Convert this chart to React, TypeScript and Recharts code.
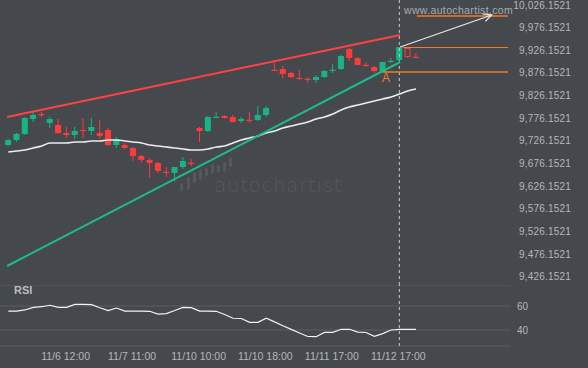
import React from 'react';
import {
  ComposedChart,
  LineChart,
  Bar,
  Line,
  XAxis,
  YAxis,
  ReferenceLine,
  ReferenceDot,
  CartesianGrid,
} from 'recharts';

const BG = '#45484d';
const GREEN = '#17b584';
const RED = '#ff3b3b';
const ORANGE = '#f47a25';
const LABEL = '#b5b7ba';
const FONT = '"Liberation Sans", Arial, sans-serif';

// ---- candle data (one entry per hourly bar) ----
const opens = [9717.3, 9728.4, 9741.6, 9774.7, 9785.7, 9765.9, 9761.5, 9743.8, 9739.4, 9750.4, 9748.2, 9743.8, 9750.4, 9717.3, 9717.3, 9710.7, 9693.1, 9684.3, 9677.6, 9658.3, 9655.6, 9668.8, 9678.0, 9754.8, 9748.2, 9778.8, 9781.3, 9779.1, 9770.3, 9773.0, 9772.5, 9783.5, 9883.2, 9885.0, 9876.2, 9865.5, 9863.3, 9860.7, 9867.3, 9882.4, 9885.0, 9929.1, 9909.3, 9894.2, 9889.4, 9878.4, 9902.2, 9904.8, 9931.3, 9912.0];
const highs = [9730.6, 9743.8, 9779.1, 9790.1, 9790.1, 9779.1, 9774.7, 9757.1, 9757.1, 9776.9, 9776.9, 9772.5, 9754.8, 9735.0, 9721.8, 9712.9, 9695.3, 9688.7, 9679.8, 9668.8, 9668.8, 9690.9, 9686.5, 9757.1, 9781.3, 9790.1, 9783.5, 9783.5, 9779.1, 9790.1, 9803.4, 9803.4, 9898.2, 9891.6, 9878.4, 9882.8, 9867.3, 9871.8, 9882.8, 9896.0, 9915.9, 9931.3, 9911.5, 9900.4, 9891.6, 9900.4, 9909.3, 9933.5, 9933.5, 9920.3];
const lows = [9715.1, 9724.0, 9739.4, 9768.1, 9779.1, 9754.8, 9741.6, 9732.8, 9730.6, 9732.8, 9739.4, 9730.6, 9715.1, 9710.7, 9708.5, 9682.1, 9677.6, 9644.6, 9655.6, 9646.8, 9637.9, 9664.4, 9671.0, 9724.0, 9746.0, 9776.9, 9774.7, 9766.9, 9765.9, 9765.9, 9770.3, 9779.1, 9880.6, 9865.1, 9865.1, 9860.7, 9854.1, 9854.1, 9865.1, 9876.2, 9882.8, 9902.6, 9893.8, 9889.4, 9876.2, 9876.2, 9898.2, 9904.8, 9909.3, 9911.0];
const closes = [9728.4, 9741.6, 9776.9, 9783.5, 9784.7, 9774.7, 9743.8, 9739.4, 9748.2, 9749.4, 9757.1, 9737.2, 9717.3, 9730.6, 9710.7, 9693.1, 9684.3, 9677.6, 9660.0, 9657.3, 9668.8, 9682.1, 9677.2, 9748.2, 9779.1, 9779.6, 9776.9, 9768.1, 9774.7, 9772.0, 9783.5, 9799.0, 9882.4, 9874.0, 9867.3, 9864.7, 9862.5, 9867.3, 9880.6, 9883.2, 9913.7, 9909.3, 9893.8, 9893.4, 9880.6, 9900.4, 9903.0, 9933.5, 9911.5, 9911.0];
const hollowCandles = [48];
const maValues = [9701.9, 9704.1, 9706.3, 9710.7, 9715.1, 9721.8, 9721.8, 9721.8, 9724.0, 9724.0, 9726.2, 9726.2, 9728.4, 9728.4, 9726.2, 9724.0, 9721.8, 9717.3, 9715.1, 9712.9, 9710.7, 9708.5, 9706.3, 9706.3, 9708.5, 9712.9, 9715.1, 9721.8, 9728.4, 9732.8, 9737.2, 9743.8, 9748.2, 9754.8, 9759.2, 9763.6, 9768.1, 9774.7, 9779.1, 9785.7, 9794.5, 9801.2, 9805.6, 9810.0, 9814.4, 9818.8, 9823.2, 9829.8, 9836.5, 9840.9];
const rsiValues = [55.8, 55.8, 56.7, 58.9, 59.4, 60.6, 58.9, 58.9, 61.4, 61.4, 61.1, 58.5, 56.2, 58.3, 55.8, 55.8, 55.8, 55.6, 53.3, 53.7, 56.2, 58.9, 58.6, 55.8, 55.8, 55.6, 52.9, 49.8, 49.6, 46.4, 46.4, 49.8, 46.8, 43.5, 40.5, 37.5, 34.6, 34.4, 38.0, 38.1, 40.6, 40.6, 38.3, 37.9, 34.7, 37.0, 40.0, 40.6, 40.6, 40.6];

// ---- axes ----
const priceTicks = [10026.1521, 9976.1521, 9926.1521, 9876.1521, 9826.1521, 9776.1521, 9726.1521, 9676.1521, 9626.1521, 9576.1521, 9526.1521, 9476.1521, 9426.1521];
const rsiTicks = [40, 60];
const timeTickIndex = [7, 15, 23, 31, 39, 47];
const timeTickLabels = ['11/6 12:00', '11/7 11:00', '11/10 10:00', '11/10 18:00', '11/11 17:00', '11/12 17:00'];

// ---- pattern annotations (index, price) ----
const signalIndex = 47;
const resistanceLine = [{ x: -0.15, y: 9779.1 }, { x: 47.1, y: 9960.0 }];
const supportLine = [{ x: -0.15, y: 9450.4 }, { x: 47.1, y: 9900.4 }];
const forecastArrow = [{ x: 47.1, y: 9933.5 }, { x: 58.1, y: 10004.1 }];
const targetLevel = { from: 49.1, to: 60.06, price: 10001.9 };
const breakoutLevel = { from: 47.45, to: 60.06, price: 9932.4 };
const pointALevel = { from: 45.05, to: 60.06, price: 9878.4 };
const pointA = { x: 45.4, price: 9865.1, label: 'A' };

const X_DOMAIN: [number, number] = [-1, 60.3];
const PRICE_DOMAIN: [number, number] = [9408.5, 10037.18];
const RSI_DOMAIN: [number, number] = [26.67, 77.5];

const data = opens.map((o, i) => ({
  i,
  open: o,
  high: highs[i],
  low: lows[i],
  close: closes[i],
  ma: maValues[i],
  hollow: hollowCandles.includes(i),
}));
const rsiData = rsiValues.map((r, i) => ({ i, rsi: r }));

const Candle = (props: any) => {
  const { x, y, width, height, payload } = props;
  if (!payload) return null;
  const { open, close, high, low, hollow } = payload;
  const top = Math.min(y, y + height);
  const h = Math.abs(height);
  const k = h / (high - low);
  const py = (v: number) => top + (high - v) * k;
  const up = close >= open;
  const color = up ? GREEN : RED;
  const bt = py(Math.max(open, close));
  const bb = py(Math.min(open, close));
  const bh = Math.max(1.2, bb - bt);
  const cx = x + width / 2;
  return (
    <g>
      <line x1={cx} x2={cx} y1={top} y2={top + h} stroke={color} strokeWidth={1} />
      {hollow ? (
        <rect x={x + 0.5} y={bt + 0.5} width={width - 1} height={bh - 1} fill={BG} stroke={color} strokeWidth={1} />
      ) : (
        <rect x={x} y={bt} width={width} height={bh} fill={color} />
      )}
    </g>
  );
};

const ArrowShape = (props: any) => {
  const { x1, y1, x2, y2 } = props;
  if ([x1, y1, x2, y2].some((v) => typeof v !== 'number')) return null;
  const ang = Math.atan2(y2 - y1, x2 - x1);
  const len = 9;
  const spread = 0.45;
  const ax = x2 - len * Math.cos(ang - spread);
  const ay = y2 - len * Math.sin(ang - spread);
  const bx = x2 - len * Math.cos(ang + spread);
  const by = y2 - len * Math.sin(ang + spread);
  return (
    <g>
      <line x1={x1} y1={y1} x2={x2} y2={y2} stroke="#e8e8e8" strokeWidth={1.3} />
      <path d={`M${ax},${ay} L${x2},${y2} L${bx},${by}`} fill="none" stroke="#e8e8e8" strokeWidth={1.3} />
    </g>
  );
};

const PriceTick = (props: any) => {
  const { y, payload } = props;
  const txt = Number(payload.value).toLocaleString('en-US', { minimumFractionDigits: 4, maximumFractionDigits: 4 });
  return (
    <text x={571} y={y} textAnchor="end" dominantBaseline="central" fill={LABEL} fontSize={10} fontFamily={FONT} letterSpacing={0.2}>
      {txt}
    </text>
  );
};

const RsiTick = (props: any) => {
  const { y, payload } = props;
  return (
    <text x={517} y={y} textAnchor="start" dominantBaseline="central" fill={LABEL} fontSize={10} fontFamily={FONT}>
      {payload.value}
    </text>
  );
};

const TimeTick = (props: any) => {
  const { x, payload } = props;
  const idx = timeTickIndex.indexOf(payload.value);
  return (
    <text x={x - 1} y={71} textAnchor="middle" dominantBaseline="central" fill={LABEL} fontSize={10.5} fontFamily={FONT}>
      {timeTickLabels[idx] ?? ''}
    </text>
  );
};

const logoBars = [
  { l: 180, t: 183, h: 8 },
  { l: 187, t: 177, h: 13 },
  { l: 193, t: 172, h: 11 },
  { l: 199, t: 169, h: 11 },
  { l: 205, t: 168, h: 8 },
  { l: 211, t: 164, h: 10 },
  { l: 217, t: 165, h: 8 },
  { l: 223, t: 162, h: 10 },
  { l: 229, t: 157, h: 10 },
];

export default function App() {
  return (
    <div
      style={{
        position: 'absolute',
        left: 0,
        top: 0,
        width: 588,
        height: 368,
        background: BG,
        overflow: 'hidden',
        fontFamily: FONT,
      }}
    >
      {/* watermark */}
      {logoBars.map((b, k) => (
        <div
          key={k}
          style={{ position: 'absolute', left: b.l, top: b.t, width: 3, height: b.h, background: '#55585e', borderRadius: 1.5 }}
        />
      ))}
      <div
        style={{
          position: 'absolute',
          left: 214,
          top: 173,
          fontSize: 20,
          color: '#55585e',
          fontFamily: '"DejaVu Sans", sans-serif',
          fontWeight: 300,
          letterSpacing: 0.6,
        }}
      >
        autochartist
      </div>

      <div style={{ position: 'absolute', left: 0, top: 0 }}>
        <ComposedChart width={588} height={285} data={data} margin={{ top: 0, right: 0, bottom: 0, left: 0 }}>
          <XAxis dataKey="i" type="number" domain={X_DOMAIN} allowDataOverflow hide height={0} />
          <YAxis
            orientation="right"
            width={78}
            domain={PRICE_DOMAIN}
            allowDataOverflow
            ticks={priceTicks}
            axisLine={false}
            tickLine={false}
            tick={<PriceTick />}
            interval={0}
          />
          <ReferenceLine x={signalIndex} stroke="#c8c8c8" strokeDasharray="3 3" strokeWidth={1} />
          <Line
            dataKey="ma"
            type="monotone"
            stroke="#ececec"
            strokeWidth={1.6}
            dot={false}
            activeDot={false}
            isAnimationActive={false}
          />
          <ReferenceLine segment={resistanceLine} stroke="#ff4242" strokeWidth={2} ifOverflow="visible" />
          <ReferenceLine segment={supportLine} stroke="#1dbb88" strokeWidth={2} ifOverflow="visible" />
          <Bar
            dataKey={(d: any) => [d.low, d.high]}
            barSize={6}
            shape={<Candle />}
            activeBar={false}
            isAnimationActive={false}
          />
          <ReferenceLine
            segment={[{ x: targetLevel.from, y: targetLevel.price }, { x: targetLevel.to, y: targetLevel.price }]}
            stroke={ORANGE}
            strokeWidth={1.3}
            ifOverflow="visible"
          />
          <ReferenceLine
            segment={[{ x: breakoutLevel.from, y: breakoutLevel.price }, { x: breakoutLevel.to, y: breakoutLevel.price }]}
            stroke={ORANGE}
            strokeWidth={1.1}
            ifOverflow="visible"
          />
          <ReferenceLine
            segment={[{ x: pointALevel.from, y: pointALevel.price }, { x: pointALevel.to, y: pointALevel.price }]}
            stroke={ORANGE}
            strokeWidth={1.3}
            ifOverflow="visible"
          />
          <ReferenceLine segment={forecastArrow} shape={(p: any) => <ArrowShape {...p} />} ifOverflow="visible" />
          <ReferenceDot
            x={pointA.x}
            y={pointA.price}
            r={0}
            ifOverflow="visible"
            shape={(p: any) => (
              <text x={p.cx} y={p.cy} textAnchor="middle" dominantBaseline="central" fill={ORANGE} fontSize={12} fontFamily={FONT}>
                {pointA.label}
              </text>
            )}
          />
        </ComposedChart>
      </div>

      <div
        style={{
          position: 'absolute',
          left: 404,
          top: 4,
          fontSize: 10.5,
          color: '#a9abae',
          letterSpacing: 0.35,
          fontFamily: FONT,
        }}
      >
        www.autochartist.com
      </div>

      <div
        style={{
          position: 'absolute',
          left: 14,
          top: 284,
          fontSize: 11,
          fontWeight: 'bold',
          color: '#b9bcc0',
          fontFamily: FONT,
        }}
      >
        RSI
      </div>

      <div style={{ position: 'absolute', left: 0, top: 285 }}>
        <LineChart width={588} height={83} data={rsiData} margin={{ top: 0, right: 0, bottom: 0, left: 0 }}>
          <CartesianGrid vertical={false} stroke="#5b5f64" strokeWidth={1} />
          <XAxis
            dataKey="i"
            type="number"
            domain={X_DOMAIN}
            allowDataOverflow
            ticks={timeTickIndex}
            interval={0}
            axisLine={false}
            tickLine={false}
            height={22}
            tick={<TimeTick />}
          />
          <YAxis
            orientation="right"
            width={78}
            domain={RSI_DOMAIN}
            allowDataOverflow
            ticks={rsiTicks}
            interval={0}
            axisLine={false}
            tickLine={false}
            tick={<RsiTick />}
          />
          <ReferenceLine x={signalIndex} stroke="#c8c8c8" strokeDasharray="3 3" strokeWidth={1} ifOverflow="visible" />
          <Line dataKey="rsi" type="linear" stroke="#f2f2f2" strokeWidth={1.2} dot={false} activeDot={false} isAnimationActive={false} />
        </LineChart>
      </div>
    </div>
  );
}
